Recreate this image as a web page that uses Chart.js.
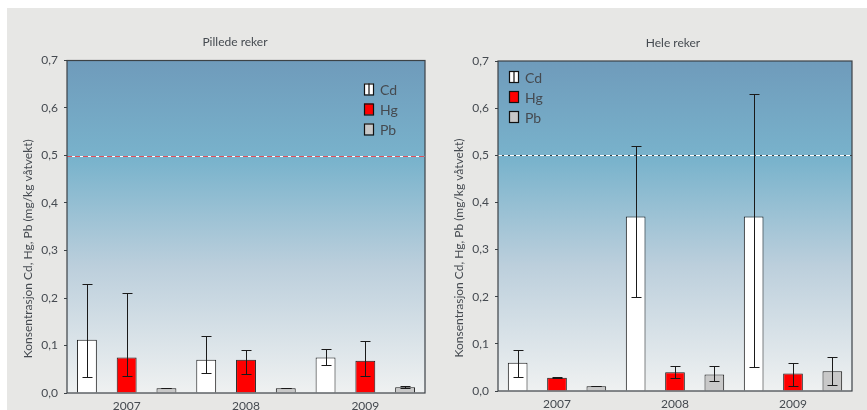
<!DOCTYPE html>
<html>
<head>
<meta charset="utf-8">
<script src="https://cdn.jsdelivr.net/npm/chart.js@4.4.1/dist/chart.umd.min.js"></script>
<style>
  html, body { margin: 0; padding: 0; background: #fff; }
  #wrap { position: relative; width: 867px; height: 410px; overflow: hidden; }
  #panel { position: absolute; left: 7px; top: 8px; width: 860px; height: 402px; background: #e7e7e5; }
  canvas { position: absolute; top: 0; }
  #c1 { left: 0; }
  #c2 { left: 431px; }
</style>
</head>
<body>
<div id="wrap">
  <div id="panel"></div>
  <canvas id="c1" width="436" height="410"></canvas>
  <canvas id="c2" width="436" height="410"></canvas>
</div>
<script>
// kategorier og serier
var years = ['2007', '2008', '2009'];
var stoffer = ['Cd', 'Hg', 'Pb'];
var yTicks = [0, 0.1, 0.2, 0.3, 0.4, 0.5, 0.6, 0.7];
var grenseverdi = 0.5;

// Pillede reker
var pilCd = [0.112, 0.070, 0.075];
var pilCdLav = [0.033, 0.042, 0.060];
var pilCdHoy = [0.230, 0.120, 0.092];
var pilHg = [0.075, 0.070, 0.068];
var pilHgLav = [0.035, 0.040, 0.035];
var pilHgHoy = [0.210, 0.090, 0.110];
var pilPb = [0.010, 0.010, 0.012];
var pilPbLav = [0.010, 0.010, 0.010];
var pilPbHoy = [0.011, 0.011, 0.014];

// Hele reker
var heleCd = [0.060, 0.370, 0.370];
var heleCdLav = [0.030, 0.200, 0.050];
var heleCdHoy = [0.088, 0.520, 0.630];
var heleHg = [0.028, 0.040, 0.037];
var heleHgLav = [0.027, 0.028, 0.010];
var heleHgHoy = [0.030, 0.052, 0.060];
var helePb = [0.010, 0.035, 0.042];
var helePbLav = [0.010, 0.022, 0.012];
var helePbHoy = [0.011, 0.052, 0.072];

var farger = ['#ffffff', '#ff0000', '#c8c8c8'];
var tekstFarge = '#454a50';
var skrift = 'Lato, "Open Sans", sans-serif';
var yTittel = 'Konsentrasjon Cd, Hg, Pb (mg/kg våtvekt)';

// bakgrunn, grenselinje, ramme, feilstolper, titler og legende
var rekerPlugin = {
    id: 'reker',
    beforeDatasetsDraw: function (chart, args, opts) {
        var ca = chart.chartArea, c = chart.ctx;
        var g = c.createLinearGradient(0, ca.top, 0, ca.bottom);
        g.addColorStop(0, '#6f9bbb');
        g.addColorStop(0.3, '#79b3cc');
        g.addColorStop(0.62, '#bccfdc');
        g.addColorStop(1, '#eff1f1');
        c.save();
        c.fillStyle = g;
        c.fillRect(ca.left, ca.top, ca.right - ca.left, ca.bottom - ca.top);
        // grenseverdi 0,5
        var y = Math.round(chart.scales.y.getPixelForValue(grenseverdi)) + 0.5;
        c.lineWidth = 1;
        c.strokeStyle = opts.linjeBunn;
        c.beginPath(); c.moveTo(ca.left, y); c.lineTo(ca.right, y); c.stroke();
        c.strokeStyle = opts.linjeStrek;
        c.setLineDash(opts.strek);
        c.beginPath(); c.moveTo(ca.left, y); c.lineTo(ca.right, y); c.stroke();
        c.restore();
    },
    afterDatasetsDraw: function (chart) {
        var c = chart.ctx, ys = chart.scales.y;
        c.save();
        c.strokeStyle = '#1a1a1a';
        c.lineWidth = 1;
        chart.data.datasets.forEach(function (ds, i) {
            chart.getDatasetMeta(i).data.forEach(function (bar, j) {
                var x = Math.round(bar.x) + 0.5;
                var y1 = Math.round(ys.getPixelForValue(ds.lav[j])) + 0.5;
                var y2 = Math.round(ys.getPixelForValue(ds.hoy[j])) + 0.5;
                c.beginPath();
                c.moveTo(x, y1); c.lineTo(x, y2);
                c.moveTo(x - 5, y1); c.lineTo(x + 5, y1);
                c.moveTo(x - 5, y2); c.lineTo(x + 5, y2);
                c.stroke();
            });
        });
        c.restore();
    },
    afterDraw: function (chart, args, opts) {
        var ca = chart.chartArea, c = chart.ctx;
        c.save();
        c.strokeStyle = '#3c4246';
        c.lineWidth = 1.2;
        c.strokeRect(ca.left, ca.top, ca.right - ca.left, ca.bottom - ca.top);
        // tittel
        c.fillStyle = tekstFarge;
        c.font = '12px ' + skrift;
        c.textAlign = 'center';
        c.textBaseline = 'middle';
        c.fillText(opts.tittel, (ca.left + ca.right) / 2 + opts.tittelDx, ca.top - 18);
        // y-aksetittel
        c.save();
        c.translate(28, (ca.top + ca.bottom) / 2 + 22);
        c.rotate(-Math.PI / 2);
        c.fillText(yTittel, 0, 0);
        c.restore();
        // legende
        var lx = opts.legendeHoyre ? ca.right - opts.legendeX : ca.left + opts.legendeX;
        var ly = ca.top + opts.legendeY;
        c.font = '14px ' + skrift;
        c.textAlign = 'left';
        chart.data.datasets.forEach(function (ds, i) {
            var top = ly + i * 20;
            c.fillStyle = ds.backgroundColor;
            c.fillRect(lx, top, 9, 11);
            c.strokeStyle = '#111';
            c.lineWidth = 1.2;
            c.strokeRect(lx + 0.5, top + 0.5, 9, 11);
            if (i === 0) {
                c.beginPath(); c.moveTo(lx + 5, top); c.lineTo(lx + 5, top + 11); c.stroke();
            }
            c.fillStyle = tekstFarge;
            c.fillText(ds.label, lx + 16, top + 7);
        });
        c.restore();
    }
};

function lagDatasett(verdier, lav, hoy) {
    return stoffer.map(function (navn, i) {
        return {
            label: navn,
            data: verdier[i],
            lav: lav[i],
            hoy: hoy[i],
            backgroundColor: farger[i],
            borderColor: '#1a1a1a',
            borderWidth: 1,
            categoryPercentage: 1.0,
            barPercentage: 0.5
        };
    });
}

function lagGraf(id, datasett, oppsett) {
    return new Chart(document.getElementById(id), {
        type: 'bar',
        data: { labels: years, datasets: datasett },
        plugins: [rekerPlugin],
        options: {
            responsive: false,
            animation: false,
            layout: { padding: { top: oppsett.topp, right: oppsett.hoyre, left: 0, bottom: 0 } },
            plugins: {
                legend: { display: false },
                tooltip: { enabled: false },
                reker: oppsett
            },
            scales: {
                x: {
                    grid: { display: false, drawTicks: false },
                    border: { display: false },
                    ticks: { color: tekstFarge, font: { family: skrift, size: 12 }, padding: 6 },
                    afterFit: function (s) { s.height = oppsett.bunn; }
                },
                y: {
                    min: yTicks[0],
                    max: yTicks[yTicks.length - 1],
                    afterBuildTicks: function (s) { s.ticks = yTicks.map(function (v) { return { value: v }; }); },
                    grid: { drawOnChartArea: false, drawTicks: true, tickLength: 3, color: '#3c4246' },
                    border: { display: false },
                    ticks: {
                        color: tekstFarge,
                        font: { family: skrift, size: 12 },
                        padding: 6,
                        callback: function (v) { return v.toFixed(1).replace('.', ','); }
                    },
                    afterFit: function (s) { s.width = 67; }
                }
            }
        }
    });
}

lagGraf('c1', lagDatasett([pilCd, pilHg, pilPb], [pilCdLav, pilHgLav, pilPbLav], [pilCdHoy, pilHgHoy, pilPbHoy]), {
    tittel: 'Pillede reker', tittelDx: -11, topp: 60.5, hoyre: 11, bunn: 17,
    legendeHoyre: true, legendeX: 61, legendeY: 23,
    linjeBunn: '#ffffff', linjeStrek: '#e0505a', strek: [5, 3]
});

lagGraf('c2', lagDatasett([heleCd, heleHg, helePb], [heleCdLav, heleHgLav, helePbLav], [heleCdHoy, heleHgHoy, helePbHoy]), {
    tittel: 'Hele reker', tittelDx: -2, topp: 61, hoyre: 15, bunn: 19,
    legendeHoyre: false, legendeX: 11, legendeY: 10,
    linjeBunn: '#3c4246', linjeStrek: '#ffffff', strek: [4, 2]
});
</script>
</body>
</html>
